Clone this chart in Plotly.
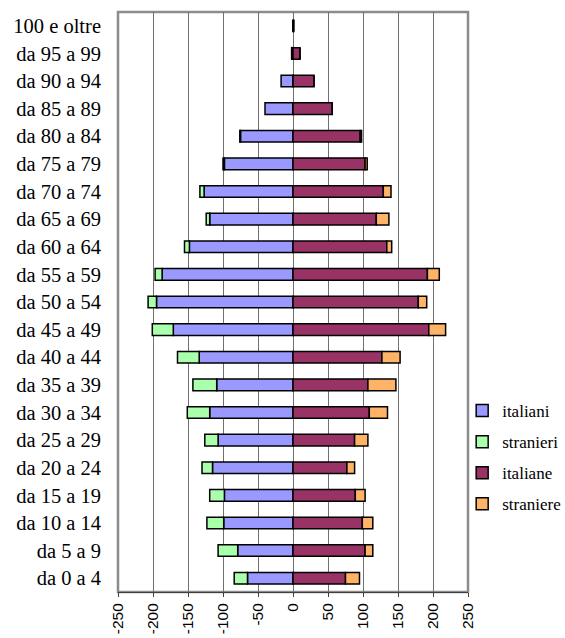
import plotly.graph_objects as go

# Age classes, youngest first (bottom of the pyramid)
classes = ["da 0 a 4", "da 5 a 9", "da 10 a 14", "da 15 a 19", "da 20 a 24",
           "da 25 a 29", "da 30 a 34", "da 35 a 39", "da 40 a 44", "da 45 a 49",
           "da 50 a 54", "da 55 a 59", "da 60 a 64", "da 65 a 69", "da 70 a 74",
           "da 75 a 79", "da 80 a 84", "da 85 a 89", "da 90 a 94", "da 95 a 99",
           "100 e oltre"]

# Males (drawn to the left)
italiani = [65, 79, 99, 98, 115, 107, 119, 109, 134, 171, 195, 187, 148, 119,
            127, 98, 75, 40, 17, 2, 0]
stranieri = [19, 28, 24, 21, 15, 19, 32, 34, 31, 30, 12, 10, 7, 5, 6, 2, 1, 0,
             0, 0, 0]

# Females (drawn to the right)
italiane = [75, 103, 99, 89, 77, 88, 109, 107, 127, 194, 179, 192, 134, 119,
            129, 103, 96, 56, 30, 10, 1]
straniere = [20, 11, 15, 14, 11, 19, 26, 40, 26, 24, 12, 17, 7, 18, 11, 3, 2,
             0, 0, 0, 0]

tick_vals = [-250, -200, -150, -100, -50, 0, 50, 100, 150, 200, 250]
tick_text = ["-250", "-200", "-150", "-100", "-50", "0", "50", "100", "150",
             "200", "250"]

series = [
    ("italiani", [-v for v in italiani], "#9999FF"),
    ("stranieri", [-v for v in stranieri], "#AAFFAA"),
    ("italiane", italiane, "#993366"),
    ("straniere", straniere, "#FFB366"),
]

fig = go.Figure()
for name, vals, color in series:
    fig.add_trace(go.Bar(
        y=classes, x=vals, orientation="h", name=name, legendgroup=name,
        marker=dict(color=color, line=dict(color="black", width=1.5)),
    ))

n = len(classes)
fig.update_layout(
    width=565, height=638,
    margin=dict(l=118, r=97, t=12, b=46, autoexpand=False),
    paper_bgcolor="white", plot_bgcolor="white",
    barmode="relative", bargap=0.58,
    showlegend=True,
    legend=dict(
        xref="container", yref="container",
        x=0.818, xanchor="left", y=0.384, yanchor="top",
        font=dict(family="Liberation Serif", size=17, color="black"),
        traceorder="grouped", tracegroupgap=6,
        bgcolor="rgba(0,0,0,0)",
    ),
    xaxis=dict(
        range=[-250, 250], tickmode="array", tickvals=tick_vals,
        ticktext=tick_text, tickangle=-90,
        tickfont=dict(family="Liberation Sans", size=15.5, color="black"),
        ticks="outside", ticklen=4, tickcolor="#404040",
        showline=True, linecolor="#404040", linewidth=1,
        showgrid=True, gridcolor="#707070", gridwidth=1,
        zeroline=False, automargin=False,
    ),
    yaxis=dict(
        type="category", categoryorder="array", categoryarray=classes,
        range=[-0.5, n - 0.5],
        tickfont=dict(family="Liberation Serif", size=20.5, color="black"),
        ticks="", showline=False, showgrid=False, zeroline=False,
        ticklabelstandoff=16, automargin=False,
    ),
    yaxis2=dict(
        overlaying="y", anchor="free", position=0.5, side="left",
        range=[-0.5, n - 0.5], tickmode="array",
        tickvals=[i - 0.5 for i in range(n + 1)],
        ticks="outside", ticklen=5, tickcolor="black",
        showticklabels=False, showline=True, linecolor="black", linewidth=1,
        showgrid=False, zeroline=False,
    ),
    shapes=[dict(type="rect", xref="paper", yref="paper", x0=0, x1=1, y0=0,
                 y1=1, line=dict(color="#8C8C8C", width=2.5), layer="below")],
)

fig.write_html("out.html")
